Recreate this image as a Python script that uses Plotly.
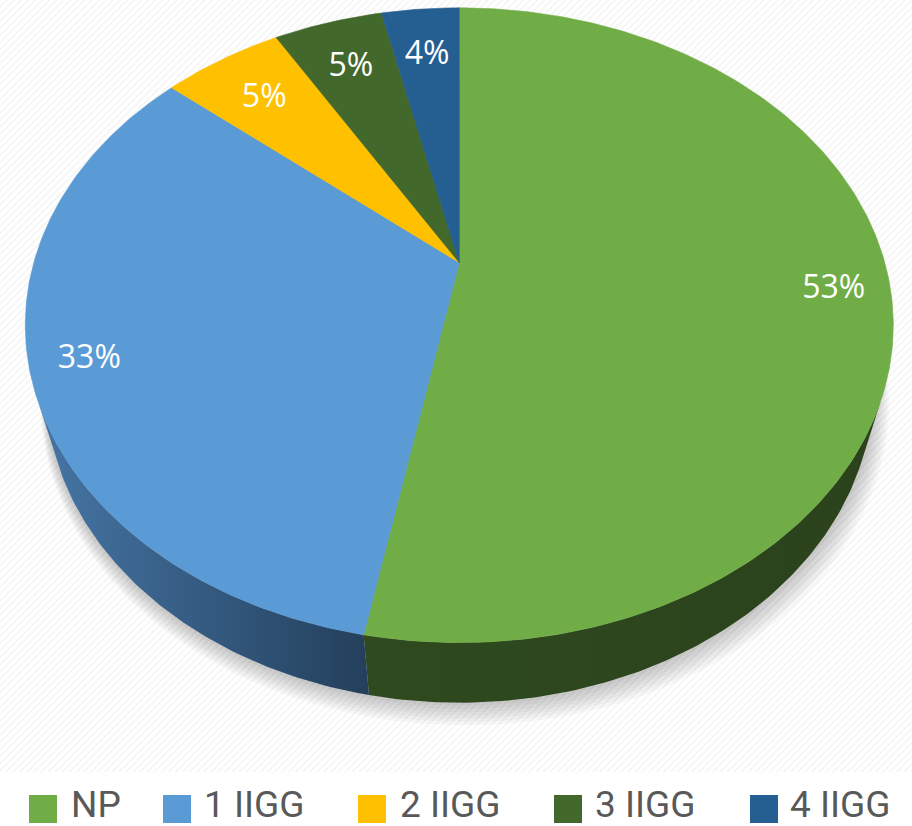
import numpy as np
import plotly.graph_objects as go

# ---------------- data ----------------
categories = ["NP", "1 IIGG", "2 IIGG", "3 IIGG", "4 IIGG"]
values = [52.9, 33.3, 5.4, 4.9, 3.5]

# ---------------- styles ----------------
top_colors = ["#70AD47", "#5B9BD5", "#FFC000", "#43682B", "#255E91"]
side_grad = [
    [[0, "#2F4A1F"], [1, "#2B421C"]],
    [[0, "#4676A6"], [1, "#233F5B"]],
    [[0, "#8C6A00"], [1, "#7A5C00"]],
    [[0, "#253A18"], [1, "#203314"]],
    [[0, "#153452"], [1, "#122C46"]],
]
label_r = [0.87, 0.87, 0.8, 0.8, 0.8]
legend_marker_x = [43, 177, 372, 568, 764]
legend_text_x = [69, 202, 398, 593, 788]
legend_y = 808

# projection of the tilted 3-D pie into pixel space
CX, CY = 459.3, 262.7
R = 425.5
E = np.radians(45.8)
FOCAL = 1506.0
DEPTH = 99.0


def project(theta_deg, rho=1.0, z=0.0):
    t = np.radians(np.asarray(theta_deg, dtype=float))
    X = rho * R * np.sin(t)
    Y = -rho * R * np.cos(t)
    w = Y * np.cos(E) + z * np.sin(E)
    up = z * np.cos(E) - Y * np.sin(E)
    f = FOCAL / (FOCAL - w)
    return CX + X * f, CY - up * f


def arc(a0, a1):
    n = max(int(abs(a1 - a0) * 1.5) + 2, 3)
    return np.linspace(a0, a1, n)


total = float(sum(values))
cum = np.concatenate([[0.0], np.cumsum(values)]) / total * 360.0

fig = go.Figure()

# striped background of the plot area
fig.add_trace(go.Scatter(
    x=[0, 912, 912, 0, 0], y=[0, 0, 772, 772, 0], mode="lines",
    fill="toself", fillcolor="#FFFFFF", line=dict(width=0),
    fillpattern=dict(shape="/", fgcolor="#EBEBEB", bgcolor="#FFFFFF",
                     size=5, solidity=0.35),
    hoverinfo="skip", showlegend=False))

# soft shadow under the pie
full = arc(0, 360)
for k in range(1, 8):
    sx, sy = project(full, rho=1.0 + 0.0035 * k, z=-DEPTH)
    fig.add_trace(go.Scatter(
        x=sx + 0.8 * k, y=sy + 1.6 * k, mode="lines", fill="toself",
        fillcolor="rgba(0,0,0,0.03)", line=dict(width=0),
        hoverinfo="skip", showlegend=False))

# visible side walls
lim = np.degrees(np.arccos(-R / (FOCAL * np.cos(E))))
for i in range(len(values)):
    s0, s1 = max(cum[i], lim), min(cum[i + 1], 360 - lim)
    if s1 <= s0:
        continue
    a = arc(s0, s1)
    tx, ty = project(a, z=0.0)
    bx, by = project(a[::-1], z=-DEPTH)
    xs = np.concatenate([tx, bx, tx[:1]])
    ys = np.concatenate([ty, by, ty[:1]])
    fig.add_trace(go.Scatter(
        x=xs, y=ys, mode="lines", fill="toself",
        fillcolor=side_grad[i][1][1],
        fillgradient=dict(type="horizontal", colorscale=side_grad[i],
                          start=float(xs.min()), stop=float(xs.max())),
        line=dict(width=0), hoverinfo="skip", showlegend=False))

# top faces
for i in range(len(values)):
    a = arc(cum[i], cum[i + 1])
    tx, ty = project(a)
    xs = np.concatenate([[CX], tx, [CX]])
    ys = np.concatenate([[CY], ty, [CY]])
    fig.add_trace(go.Scatter(
        x=xs, y=ys, mode="lines", fill="toself", fillcolor=top_colors[i],
        line=dict(width=0.6, color=top_colors[i]),
        name=categories[i], hoverinfo="name", showlegend=False))

# percentage labels
mids = (cum[:-1] + cum[1:]) / 2
lx, ly = [], []
for i, m in enumerate(mids):
    px, py = project(m, rho=label_r[i])
    lx.append(float(px))
    ly.append(float(py) + 3)
fig.add_trace(go.Scatter(
    x=lx, y=ly, mode="text",
    text=[f"{round(v / total * 100)}%" for v in values],
    textfont=dict(family="Open Sans", size=32, color="#FFFFFF"),
    hoverinfo="skip", showlegend=False))

# legend (drawn manually to get large square keys)
fig.add_trace(go.Scatter(
    x=legend_marker_x, y=[legend_y + 1] * len(categories), mode="markers",
    marker=dict(symbol="square", size=28, color=top_colors, line=dict(width=0)),
    hoverinfo="skip", showlegend=False))
for i, c in enumerate(categories):
    fig.add_annotation(
        x=legend_text_x[i], y=legend_y - 4, text=c, showarrow=False,
        xanchor="left", yanchor="middle",
        font=dict(family="Roboto", size=37, color="#595959"))

fig.update_layout(
    width=912, height=826, margin=dict(l=0, r=0, t=0, b=0),
    paper_bgcolor="#FFFFFF", plot_bgcolor="#FFFFFF", showlegend=False,
    xaxis=dict(range=[0, 912], visible=False, fixedrange=True),
    yaxis=dict(range=[826, 0], visible=False, fixedrange=True),
)

fig.write_html(
    "out.html",
    config={"displayModeBar": False},
    post_script="document.body.style.margin='0px';document.body.style.overflow='hidden';",
)
